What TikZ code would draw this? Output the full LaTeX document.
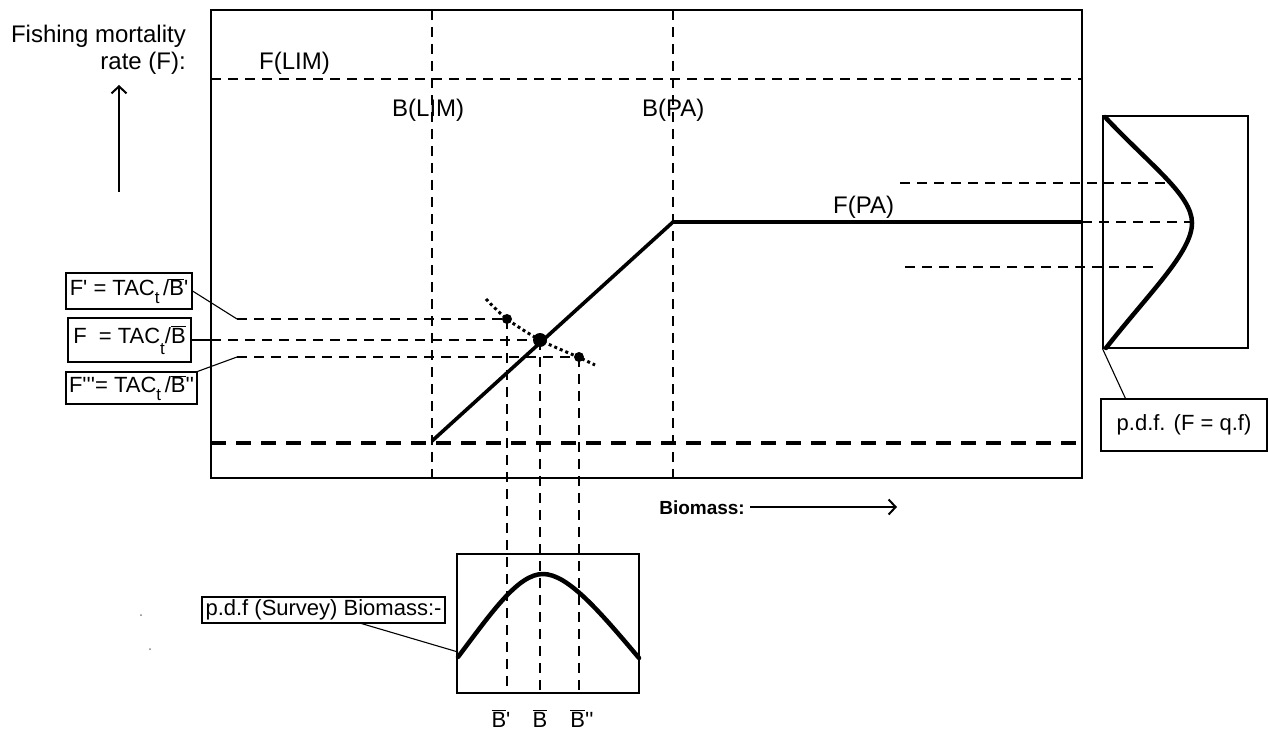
\documentclass[tikz,border=0pt]{standalone}
\usepackage{fontspec}
\newfontfamily\lf{Liberation Sans}
\usetikzlibrary{arrows.meta,calc}
\newcommand{\Bb}{$\overline{\mbox{B}}$}
\newcommand{\tsb}[1][-8pt]{\raisebox{#1}{\fontsize{17}{17}\selectfont t}}
\begin{document}
\begin{tikzpicture}[x=1pt,y=-1pt,
  thinln/.style={line width=1.1pt},
  dl/.style={line width=1.1pt, dash pattern=on 10pt off 7pt},
  heavy/.style={line width=3.6pt},
  pdfcurve/.style={line width=4.5pt, line cap=round, line join=round},
  lbl/.style={inner sep=0pt, font=\lf\fontsize{24}{26}\selectfont},
  tbox/.style={draw, line width=1.1pt, inner sep=0pt, font=\lf\fontsize{22}{24}\selectfont},
  blbl/.style={inner sep=0pt, font=\lf\fontsize{22}{24}\selectfont, anchor=base},
  dotn/.style={circle, fill, inner sep=0pt, minimum size=#1},
  arr/.style={line width=2pt, -{Straight Barb[length=7pt,width=15pt,line width=2pt]}},
]
\useasboundingbox (0,0) rectangle (1268,738);
\fill[white] (0,0) rectangle (1268,738);

% main frame and reference lines
\draw[thinln] (211,10) rectangle (1082,478);
\draw[dl] (211,79) -- (1082,79);
\draw[dl] (432,10) -- (432,478);
\draw[dl] (673,10) -- (673,478);
\draw[line width=3.5pt, dash pattern=on 15pt off 10pt] (211,443) -- (1082,443);

% harvest control rule
\coordinate (rampL) at (432,441);
\coordinate (rampK) at (673,222);
\coordinate (rampR) at (1082,222);
\draw[heavy] (rampL) -- (rampK) -- (rampR);

% labels in frame
\node[lbl, anchor=base west] (flim) at (259,70) {F(LIM)};
\node[lbl, anchor=base west] (blim) at (392,117) {B(LIM)};
\node[lbl, anchor=base west] (bpa) at (642,117) {B(PA)};
\node[lbl, anchor=base west] (fpa) at (833,214) {F(PA)};

% axis labels
\node[lbl, anchor=base east] (ylab1) at (186,43) {Fishing mortality};
\node[lbl, anchor=base east] (ylab2) at (186,70) {rate (F):};
\coordinate (ya0) at (119,192);
\coordinate (ya1) at (119,85);
\draw[arr] (ya0) -- (ya1);
\node[lbl, font=\lf\bfseries\fontsize{19}{21}\selectfont, anchor=base east] (xlab) at (745,514) {Biomass:};
\coordinate (xa0) at (750,507);
\coordinate (xa1) at (897,507);
\draw[arr] (xa0) -- (xa1);

% dotted catch curve and points
\draw[line width=3pt, dash pattern=on 3pt off 3pt] plot[smooth] coordinates {(486,299) (507,319) (540,340) (578,357) (595,365)};
\node[dotn=10pt] (d1) at (507,319) {};
\node[dotn=14pt] (d0) at (540,340) {};
\node[dotn=10pt] (d2) at (579,357) {};

% left label boxes
\node[tbox, minimum width=126pt, minimum height=36pt] (b1) at (129,291) {F' = TAC\tsb\,/\Bb'};
\node[tbox, minimum width=123pt, minimum height=44pt] (b2) at (129.5,340) {F\ \ = TAC\tsb[-11pt]/\Bb};
\node[tbox, minimum width=131pt, minimum height=32pt] (b3) at (131.5,388) {F'''= TAC\tsb\,/\Bb''};
\coordinate (c1) at (237,319);
\coordinate (c2) at (211,340);
\coordinate (c3) at (237,357);
\draw[thinln] (b1.east) -- (c1);
\draw[thinln] (b2.east) -- (c2);
\draw[thinln] (b3.north east) -- (c3);
\draw[dl] (c1) -- (d1.center);
\draw[dl] (c2) -- (d0.center);
\draw[dl] (c3) -- (d2.center);

% bottom pdf box
\node[draw, thinln, minimum width=182pt, minimum height=139pt, inner sep=0pt] (bpdf) at (548,623.5) {};
\draw[pdfcurve] (458,657) .. controls (492,612) and (518,574) .. (543,574) .. controls (568,574) and (600,612) .. (639,658);
\coordinate (v1) at (507,693);
\coordinate (v0) at (540,693);
\coordinate (v2) at (579,693);
\draw[dl] (d1.center) -- (v1);
\draw[dl] (d0.center) -- (v0);
\draw[dl] (d2.center) -- (v2);
\node[tbox, minimum width=243pt, minimum height=26pt] (sb) at (323.5,610) {p.d.f (Survey) Biomass:-};
\coordinate (sbend) at (458,652);
\draw[thinln] ($(sb.south)+(38,0)$) -- (sbend);

% bottom labels
\node[blbl] (lb1) at (501,727) {\Bb'};
\node[blbl] (lb0) at (540,727) {\Bb};
\node[blbl] (lb2) at (582,727) {\Bb''};

% right pdf box
\node[draw, thinln, minimum width=145pt, minimum height=232pt, inner sep=0pt] (rpdf) at (1175.5,232) {};
\draw[pdfcurve] (1105,117) .. controls (1150,165) and (1192,195) .. (1192,223) .. controls (1192,252) and (1150,292) .. (1106,348);
\draw[dl] (900,183) -- (1170,183);
\draw[dl] (rampR) -- (1190,222);
\draw[dl] (905,267) -- (1160,267);
\node[tbox, minimum width=166pt, minimum height=52pt] (rb) at (1184,425) {p.d.f. (F = q.f)};
\draw[thinln] (rpdf.south west) -- ($(rb.north west)+(25,0)$);

% specks
\fill[gray] (141,615) circle (1pt);
\fill[gray] (150,649) circle (1pt);
\end{tikzpicture}
\end{document}
